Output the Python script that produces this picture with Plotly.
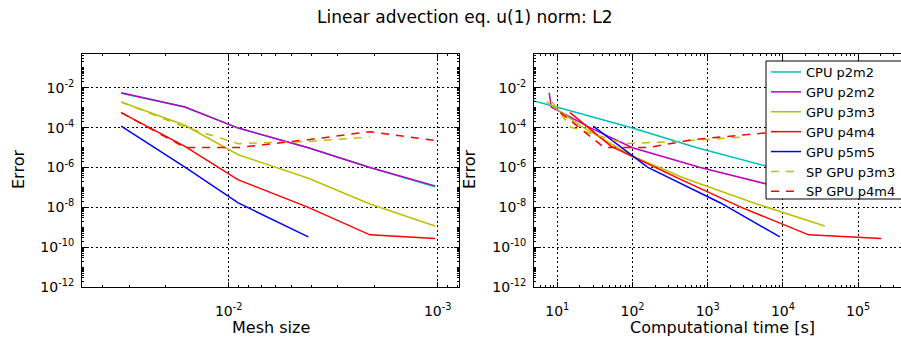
import plotly.graph_objects as go

# ---------------- data ----------------
mesh_size = [0.0327, 0.0162, 0.0090, 0.00416, 0.00211, 0.00103]

err_cpu_p2m2 = [5.37e-3, 1.10e-3, 9.55e-5, 9.77e-6, 1.00e-6, 1.07e-7]
err_gpu_p2m2 = [5.62e-3, 1.10e-3, 9.55e-5, 9.77e-6, 1.00e-6, 1.20e-7]
err_gpu_p3m3 = [1.95e-3, 1.32e-4, 4.37e-6, 2.88e-7, 1.48e-8, 1.15e-9]
err_gpu_p4m4 = [5.75e-4, 1.15e-5, 2.40e-7, 1.00e-8, 4.17e-10, 2.75e-10]
err_gpu_p5m5 = [1.20e-4, 1.05e-6, 1.66e-8, 3.31e-10]
err_sp_p3m3 = [1.95e-3, 1.07e-4, 1.58e-5, 2.04e-5, 3.39e-5]
err_sp_p4m4 = [5.75e-4, 1.00e-5, 1.00e-5, 2.51e-5, 6.31e-5, 2.29e-5]

time_cpu_p2m2 = [2.0, 9.8, 100, 720, 7100, 63000]
time_gpu_p2m2 = [7.8, 8.3, 28, 100, 800, 7600]
time_gpu_p3m3 = [7.2, 20, 91, 490, 4500, 36000]
time_gpu_p4m4 = [14.8, 52, 450, 2800, 22000, 204000]
time_gpu_p5m5 = [30, 158, 1480, 9100]
time_sp_p3m3 = [8.5, 15, 79, 400, 2950]
time_sp_p4m4 = [11, 42, 160, 630, 8900, 79000]

names = ["CPU p2m2", "GPU p2m2", "GPU p3m3", "GPU p4m4", "GPU p5m5",
         "SP GPU p3m3", "SP GPU p4m4"]
errors = [err_cpu_p2m2, err_gpu_p2m2, err_gpu_p3m3, err_gpu_p4m4,
          err_gpu_p5m5, err_sp_p3m3, err_sp_p4m4]
times = [time_cpu_p2m2, time_gpu_p2m2, time_gpu_p3m3, time_gpu_p4m4,
         time_gpu_p5m5, time_sp_p3m3, time_sp_p4m4]

y_tick_exp = [-12, -10, -8, -6, -4, -2]
x1_tick_exp = [-2, -3]
x2_tick_exp = [1, 2, 3, 4, 5]

title_text = "Linear advection eq. u(1) norm: L2"

# ---------------- styles ----------------
colors = ["#00BFBF", "#BF00BF", "#BFBF00", "#FF0000", "#0000FF", "#BFBF00", "#FF0000"]
dashes = ["solid"] * 5 + ["8px,7px", "8px,7px"]
FONT = "DejaVu Sans"
W, H = 901, 337

fig = go.Figure()
for i, name in enumerate(names):
    n = len(errors[i])
    fig.add_trace(go.Scatter(
        x=mesh_size[:n], y=errors[i], mode="lines", name=name,
        line=dict(color=colors[i], width=1.5, dash=dashes[i]),
        legendgroup=name, showlegend=False, xaxis="x", yaxis="y"))
for i, name in enumerate(names):
    fig.add_trace(go.Scatter(
        x=times[i], y=errors[i], mode="lines", name=name,
        line=dict(color=colors[i], width=1.5, dash=dashes[i]),
        legendgroup=name, showlegend=True, xaxis="x2", yaxis="y2"))


def minor_vals(lo, hi):
    vals = []
    for k in range(lo, hi + 1):
        for m in range(2, 10):
            vals.append(m * 10.0 ** k)
    return vals


def ymin_vals():
    vals = []
    for k in range(-13, 1):
        for m in range(1, 10):
            if m == 1 and k % 2 == 0:
                continue
            vals.append(m * 10.0 ** k)
    return vals


def sup(e):
    return "10<sup>%d</sup>" % e


common_axis = dict(
    type="log", showline=True, linecolor="black", linewidth=1,
    ticks="inside", ticklen=5, tickwidth=1, tickcolor="black",
    showgrid=True, gridcolor="black", griddash="2px,2.5px", gridwidth=1,
    zeroline=False, tickfont=dict(family=FONT, size=14, color="black"),
)

yaxis_common = dict(common_axis)
yaxis_common.update(
    range=[-12, -0.30], tickmode="array",
    tickvals=[10.0 ** e for e in y_tick_exp],
    ticktext=[sup(e) for e in y_tick_exp],
    minor=dict(tickmode="array", tickvals=ymin_vals(), ticks="inside",
               ticklen=2, tickcolor="black", showgrid=False),
    domain=[1 - 287 / H, 1 - 54 / H], ticklabelstandoff=4,
)

x1 = dict(common_axis)
x1.update(
    domain=[82 / W, 459 / W], range=[-1.298, -3.102], anchor="y",
    tickmode="array", tickvals=[10.0 ** e for e in x1_tick_exp],
    ticktext=[sup(e) for e in x1_tick_exp], mirror="ticks",
    minor=dict(tickmode="array", tickvals=minor_vals(-4, -2), ticks="inside",
               ticklen=2, tickcolor="black", showgrid=False),
    ticklabelstandoff=11,
)
x2 = dict(common_axis)
x2.update(
    domain=[534 / W, 1.0], range=[0.690, 0.690 + (W - 534) / 75.2], anchor="y2",
    tickmode="array", tickvals=[10.0 ** e for e in x2_tick_exp],
    ticktext=[sup(e) for e in x2_tick_exp], mirror="ticks",
    minor=dict(tickmode="array", tickvals=minor_vals(0, 5), ticks="inside",
               ticklen=2, tickcolor="black", showgrid=False),
    ticklabelstandoff=11,
)
y1 = dict(yaxis_common)
y1.update(anchor="x", mirror="ticks")
y2 = dict(yaxis_common)
y2.update(anchor="x2", mirror=False)

fig.update_layout(
    width=W, height=H, autosize=False,
    margin=dict(l=0, r=0, t=0, b=0, autoexpand=False),
    paper_bgcolor="white", plot_bgcolor="white",
    font=dict(family=FONT, color="black"),
    xaxis=x1, yaxis=y1, xaxis2=x2, yaxis2=y2,
    legend=dict(x=766 / W, y=1 - 57 / H, xanchor="left", yanchor="top",
                bgcolor="rgba(0,0,0,0)", borderwidth=0,
                font=dict(family=FONT, size=13, color="black"),
                itemwidth=30, tracegroupgap=0),
    shapes=[
        # legend frame: runs past the right edge of the picture, as in the reference
        dict(type="rect", xref="paper", yref="paper",
             x0=766 / W, x1=1.03, y0=1 - 199 / H, y1=1 - 61 / H,
             fillcolor="white", line=dict(color="black", width=1), layer="above"),
    ],
    annotations=[
        dict(text=title_text, x=465 / W, y=1 - 17 / H, xref="paper", yref="paper",
             showarrow=False, font=dict(family=FONT, size=17), xanchor="center", yanchor="middle"),
        dict(text="Mesh size", x=270.5 / W, y=1 - 327 / H, xref="paper", yref="paper",
             showarrow=False, font=dict(family=FONT, size=16), xanchor="center", yanchor="middle"),
        dict(text="Computational time [s]", x=722 / W, y=1 - 327 / H, xref="paper", yref="paper",
             showarrow=False, font=dict(family=FONT, size=16), xanchor="center", yanchor="middle"),
        dict(text="Error", x=18 / W, y=1 - 170 / H, xref="paper", yref="paper", textangle=-90,
             showarrow=False, font=dict(family=FONT, size=16), xanchor="center", yanchor="middle"),
        dict(text="Error", x=469 / W, y=1 - 170 / H, xref="paper", yref="paper", textangle=-90,
             showarrow=False, font=dict(family=FONT, size=16), xanchor="center", yanchor="middle"),
    ],
)

fig.write_html("out.html")
